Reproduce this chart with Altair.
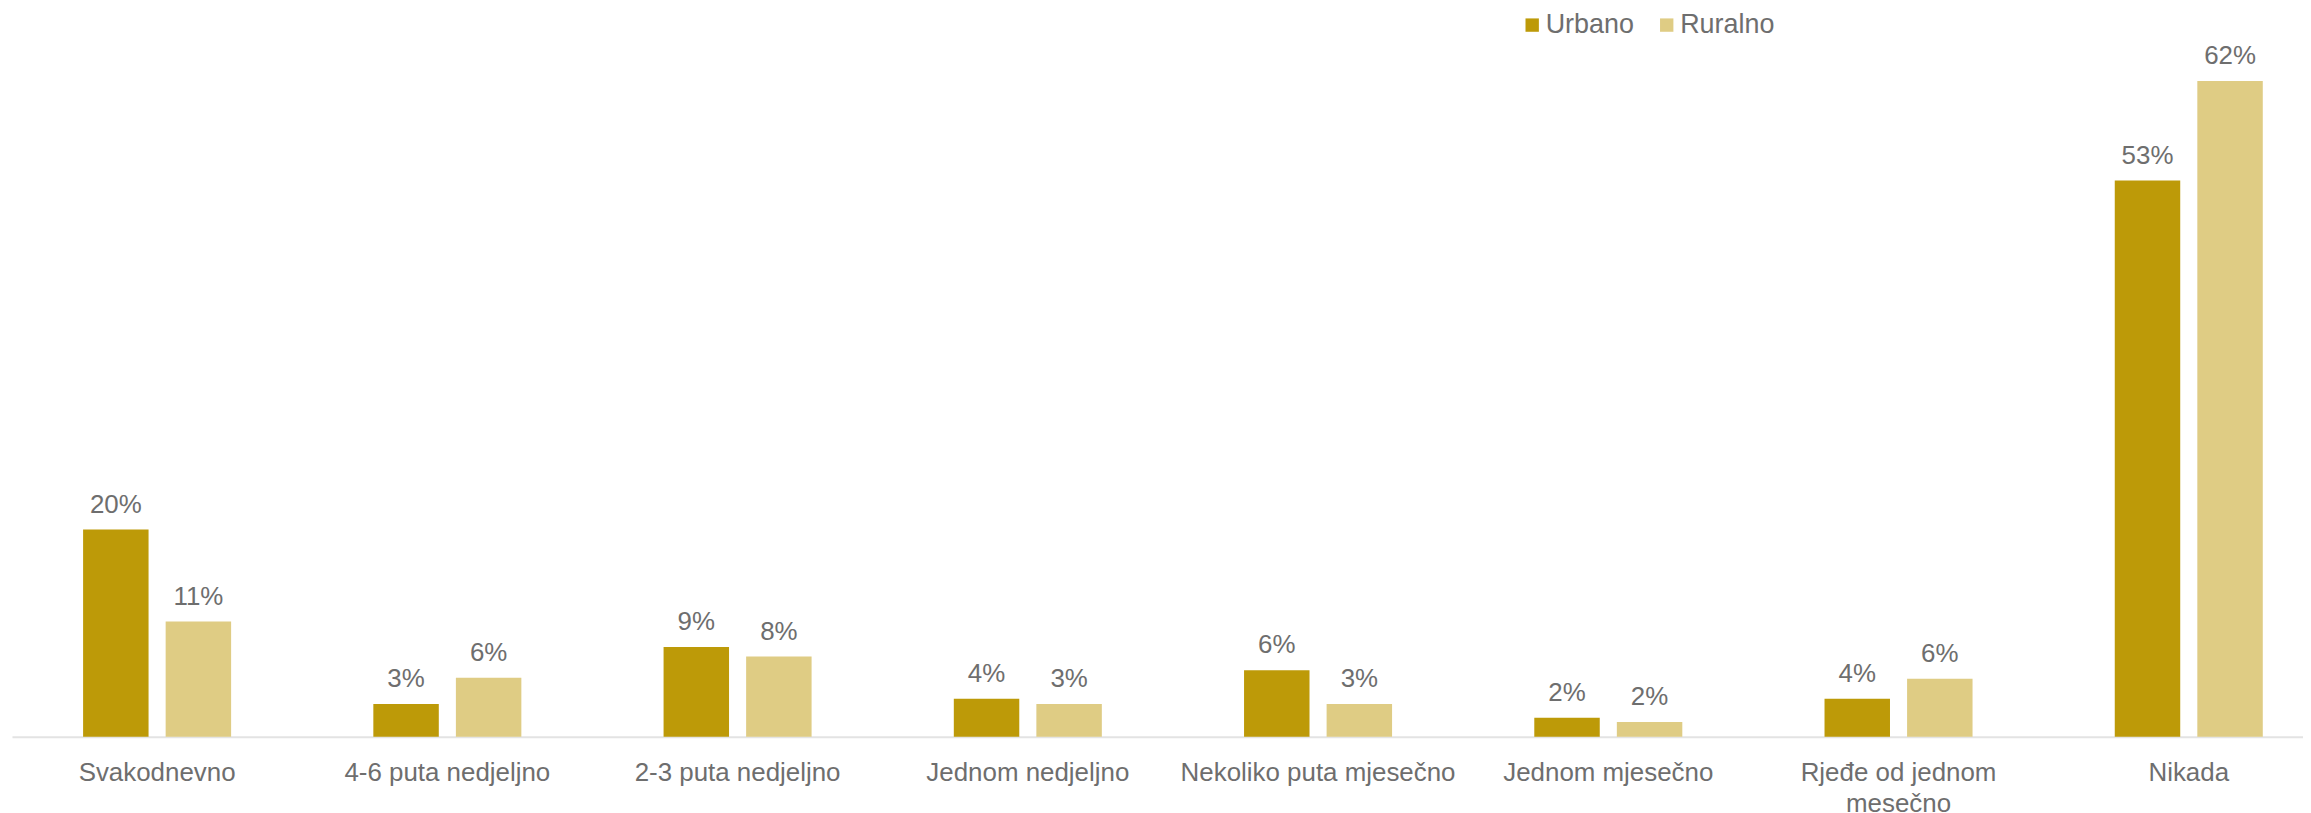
import altair as alt
import pandas as pd

categories = ["Svakodnevno", "4-6 puta nedjeljno", "2-3 puta nedjeljno", "Jednom nedjeljno",
              "Nekoliko puta mjesečno", "Jednom mjesečno", "Rjeđe od jednom mesečno", "Nikada"]
series = ["Urbano", "Ruralno"]
urbano_values = [19.6, 3.1, 8.5, 3.6, 6.3, 1.8, 3.6, 52.6]
ruralno_values = [10.9, 5.6, 7.6, 3.1, 3.1, 1.4, 5.5, 62.0]
urbano_labels = ["20%", "3%", "9%", "4%", "6%", "2%", "4%", "53%"]
ruralno_labels = ["11%", "6%", "8%", "3%", "3%", "2%", "6%", "62%"]
colors = ["#BD9A08", "#DFCC84"]

rows = []
for i, c in enumerate(categories):
    rows.append({"cat": c, "series": "Urbano", "value": urbano_values[i] / 100, "label": urbano_labels[i]})
    rows.append({"cat": c, "series": "Ruralno", "value": ruralno_values[i] / 100, "label": ruralno_labels[i]})
df = pd.DataFrame(rows)

FONT = "Liberation Sans"
GREY = "#6E6E6E"

x = alt.X("cat:N", sort=categories,
          scale=alt.Scale(range=[4, 2334], paddingInner=0.49, paddingOuter=0.245),
          axis=alt.Axis(title=None, labelAngle=0, ticks=False, domainColor="#E3E3E3", domainWidth=2,
                        labelFont=FONT, labelFontSize=26, labelColor=GREY, labelPadding=23,
                        labelLineHeight=31, labelLimit=400,
                        labelExpr="datum.value == 'Rjeđe od jednom mesečno' ? ['Rjeđe od jednom', 'mesečno'] : datum.value"))
xo = alt.XOffset("series:N", sort=series, scale=alt.Scale(paddingInner=0.207, paddingOuter=0))
y = alt.Y("value:Q", scale=alt.Scale(domain=[0, 0.6878], nice=False), axis=None)

base = alt.Chart(df)
bars = base.mark_bar().encode(
    x=x, xOffset=xo, y=y,
    color=alt.Color("series:N", sort=series, scale=alt.Scale(domain=series, range=colors),
                    legend=alt.Legend(title=None, orient="none", legendX=1516, legendY=2,
                                      direction="horizontal", symbolType="square", symbolSize=180,
                                      symbolStrokeWidth=0, labelFont=FONT, labelFontSize=27,
                                      labelColor=GREY, labelOffset=0, columnPadding=19))
)
texts = base.mark_text(font=FONT, fontSize=26, color=GREY, baseline="alphabetic", dy=-17).encode(
    x=x, xOffset=xo, y=y, text="label:N"
)

chart = alt.layer(bars, texts).properties(
    width=2303, height=730,
    autosize=alt.AutoSizeParams(type="none"),
    padding={"left": 0, "top": 0, "right": 0, "bottom": 78},
).configure_view(strokeWidth=0)

chart.save("out.html", embed_options={"renderer": "svg", "actions": False})
